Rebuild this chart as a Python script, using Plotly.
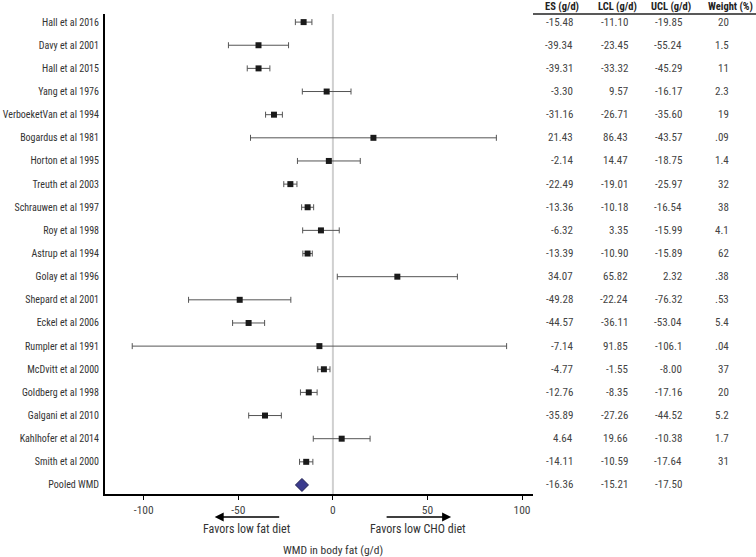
import plotly.graph_objects as go

studies = ["Hall et al 2016", "Davy et al 2001", "Hall et al 2015", "Yang et al 1976",
           "VerboeketVan et al 1994", "Bogardus et al 1981", "Horton et al 1995",
           "Treuth et al 2003", "Schrauwen et al 1997", "Roy et al 1998", "Astrup et al 1994",
           "Golay et al 1996", "Shepard et al 2001", "Eckel et al 2006", "Rumpler et al 1991",
           "McDvitt et al 2000", "Goldberg et al 1998", "Galgani et al 2010",
           "Kahlhofer et al 2014", "Smith et al 2000"]
es = [-15.48, -39.34, -39.31, -3.30, -31.16, 21.43, -2.14, -22.49, -13.36, -6.32, -13.39,
      34.07, -49.28, -44.57, -7.14, -4.77, -12.76, -35.89, 4.64, -14.11]
lcl = [-11.10, -23.45, -33.32, 9.57, -26.71, 86.43, 14.47, -19.01, -10.18, 3.35, -10.90,
       65.82, -22.24, -36.11, 91.85, -1.55, -8.35, -27.26, 19.66, -10.59]
ucl = [-19.85, -55.24, -45.29, -16.17, -35.60, -43.57, -18.75, -25.97, -16.54, -15.99, -15.89,
       2.32, -76.32, -53.04, -106.1, -8.00, -17.16, -44.52, -10.38, -17.64]
weight = ["20", "1.5", "11", "2.3", "19", ".09", "1.4", "32", "38", "4.1", "62", ".38", ".53",
          "5.4", ".04", "37", "20", "5.2", "1.7", "31"]
pooled_label = "Pooled WMD"
pooled_es, pooled_lcl, pooled_ucl = -16.36, -15.21, -17.50
x_ticks = [-100, -50, 0, 50, 100]
headers = ["ES (g/d)", "LCL (g/d)", "UCL (g/d)", "Weight (%)"]

FONT = "Roboto Condensed"
W, H = 756, 557
L, R_PLOT, T, B = 105, 533, 14, 494

def px2paper_x(px):
    return (px - L) / (W - L)

def px2paper_y(py):
    return (B - py) / (B - T)

n = len(studies)
ys = list(range(n))
upper = [max(a, b) for a, b in zip(lcl, ucl)]
lower = [min(a, b) for a, b in zip(lcl, ucl)]

fig = go.Figure()
fig.add_trace(go.Scatter(
    x=es, y=ys, mode="markers",
    marker=dict(symbol="square", size=6, color="#1a1a1a"),
    error_x=dict(type="data", symmetric=False,
                 array=[u - e for u, e in zip(upper, es)],
                 arrayminus=[e - l for e, l in zip(es, lower)],
                 color="#555555", thickness=1, width=3),
    showlegend=False, hoverinfo="x+y"))
fig.add_trace(go.Scatter(
    x=[pooled_es], y=[n], mode="markers",
    marker=dict(symbol="diamond", size=10, color="#3b3b8e",
                line=dict(color="#20204f", width=1)),
    showlegend=False))

xend = px2paper_x(R_PLOT)
fig.update_layout(
    width=W, height=H, margin=dict(l=L, r=0, t=T, b=H - B, autoexpand=False),
    paper_bgcolor="white", plot_bgcolor="white",
    font=dict(family=FONT, size=11, color="#333333"),
    xaxis=dict(domain=[0, xend], range=[-120.5, 105.8], tickvals=x_ticks,
               ticktext=[str(v) for v in x_ticks], showgrid=False, zeroline=False,
               showline=True, linecolor="black", linewidth=2, ticks="outside",
               ticklen=4, tickcolor="black", automargin=False,
               tickfont=dict(family=FONT, size=11.5, color="#444444")),
    yaxis=dict(range=[n + 0.39, -0.35], tickvals=ys + [n], ticktext=studies + [pooled_label],
               showgrid=False, zeroline=False, showline=True, linecolor="black",
               linewidth=2, ticks="", ticklabelstandoff=2, automargin=False,
               tickfont=dict(family=FONT, size=10, color="#333333")),
)

# zero reference line
fig.add_shape(type="line", xref="x", yref="paper", x0=0, x1=0, y0=0, y1=1,
              line=dict(color="#d0d0d0", width=2), layer="below")
# header rule
fig.add_shape(type="line", xref="paper", yref="paper", x0=xend, x1=1, y0=1, y1=1,
              line=dict(color="#222222", width=1.5))

# table
col_right = [575, 630, 684, 731]
col_center = [562, 617, 671, 730]
for h, cx in zip(headers, col_center):
    fig.add_annotation(text="<b>" + h + "</b>", xref="paper", yref="paper",
                       x=px2paper_x(cx), y=px2paper_y(6), xanchor="center", yanchor="middle",
                       showarrow=False, font=dict(family=FONT, size=10.5, color="#222222"))
cols = [[f"{v:.2f}" for v in es], [f"{v:.2f}" if abs(v) < 100 else f"{v:.1f}" for v in lcl],
        [f"{v:.2f}" if abs(v) < 100 else f"{v:.1f}" for v in ucl], weight]
for ci, col in enumerate(cols):
    for i, txt in enumerate(col):
        fig.add_annotation(text=txt, xref="paper", yref="y", x=px2paper_x(col_right[ci]), y=i,
                           xanchor="right", yanchor="middle", showarrow=False,
                           font=dict(family=FONT, size=11, color="#444444"))
for ci, v in enumerate([pooled_es, pooled_lcl, pooled_ucl]):
    fig.add_annotation(text=f"{v:.2f}", xref="paper", yref="y", x=px2paper_x(col_right[ci]), y=n,
                       xanchor="right", yanchor="middle", showarrow=False,
                       font=dict(family=FONT, size=11, color="#444444"))

# arrows and labels
fig.add_annotation(x=-62.5, y=px2paper_y(517), xref="x", yref="paper", ax=66, ay=0,
                   text="", showarrow=True, arrowhead=2, arrowsize=1.2, arrowwidth=1.5,
                   arrowcolor="black")
fig.add_annotation(x=62.5, y=px2paper_y(517), xref="x", yref="paper", ax=-66, ay=0,
                   text="", showarrow=True, arrowhead=2, arrowsize=1.2, arrowwidth=1.5,
                   arrowcolor="black")
fig.add_annotation(text="Favors low fat diet", x=-45.5, y=px2paper_y(529), xref="x", yref="paper",
                   showarrow=False, xanchor="center", yanchor="middle",
                   font=dict(family=FONT, size=12, color="#333333"))
fig.add_annotation(text="Favors low CHO diet", x=45, y=px2paper_y(529), xref="x", yref="paper",
                   showarrow=False, xanchor="center", yanchor="middle",
                   font=dict(family=FONT, size=12, color="#333333"))
fig.add_annotation(text="WMD in body fat (g/d)", x=0, y=px2paper_y(550), xref="x", yref="paper",
                   showarrow=False, xanchor="center", yanchor="middle",
                   font=dict(family=FONT, size=11.5, color="#333333"))

fig.write_html("out.html", config={"displayModeBar": False},
               post_script="document.body.style.margin='0px';")
